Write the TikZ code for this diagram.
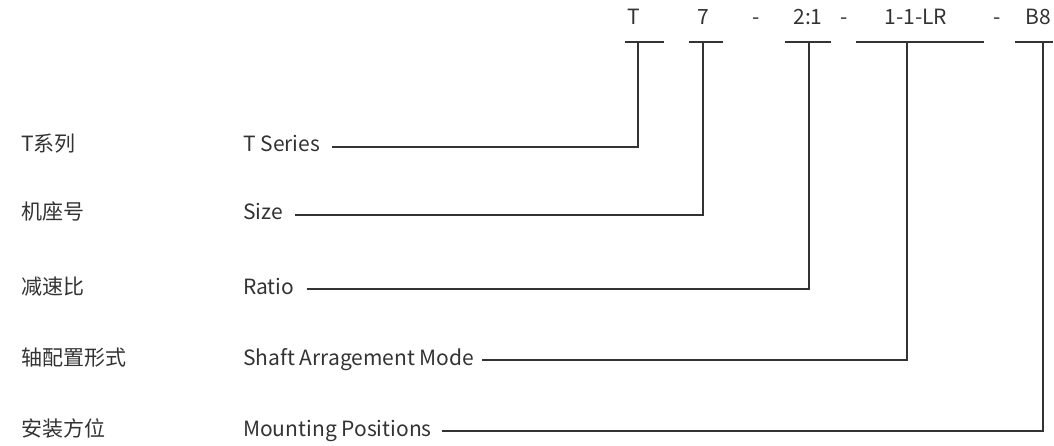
\documentclass[tikz,border=0pt]{standalone}
\usepackage{fontspec}
\setmainfont{Noto Sans CJK SC}
\definecolor{ink}{HTML}{333333}
\begin{document}
\begin{tikzpicture}[x=1pt,y=-1pt,
  lab/.style={anchor=west, inner sep=0pt, text height=1em, text depth=0pt, font=\fontsize{21}{21}\selectfont, text=ink},
  code/.style={inner sep=0pt, text height=1em, text depth=0pt, font=\fontsize{21}{21}\selectfont, text=ink},
  conn/.style={draw=ink, line width=1.2pt}]
\useasboundingbox (0,0) rectangle (1054,446);
% code row
\node[code] (cT) at (634,20) {T};
\node[code] (c7) at (703,20) {7};
\node[code] (d1) at (756,20) {-};
\node[code] (cR) at (808,20) {2:1};
\node[code] (d2) at (844,20) {-};
\node[code] (cS) at (916,20) {1-1-LR};
\node[code] (d3) at (997,20) {-};
\node[code] (cB) at (1038,20) {B8};
% underlines
\draw[conn] (625,42) -- (664,42);
\draw[conn] (689,42) -- (723,42);
\draw[conn] (785,42) -- (831,42);
\draw[conn] (856,42) -- (984,42);
\draw[conn] (1015,42) -- (1053,42);
\coordinate (uT) at (638,42);
\coordinate (u7) at (703,42);
\coordinate (uR) at (809,42);
\coordinate (uS) at (907,42);
\coordinate (uB) at (1043,42);
% labels
\node[lab] (z1) at (21,147) {T系列};
\node[lab] (z2) at (21,215) {机座号};
\node[lab] (z3) at (21,289) {减速比};
\node[lab] (z4) at (21,360) {轴配置形式};
\node[lab] (z5) at (21,431) {安装方位};
\node[lab] (e1) at (243,147) {T Series};
\node[lab] (e2) at (243,215) {Size};
\node[lab] (e3) at (243,289) {Ratio};
\node[lab] (e4) at (243,360) {Shaft Arragement Mode};
\node[lab] (e5) at (243,431) {Mounting Positions};
% connectors
\draw[conn] ([xshift=12pt]e1.east) -| (uT);
\draw[conn] ([xshift=12pt]e2.east) -| (u7);
\draw[conn] ([xshift=12pt]e3.east) -| (uR);
\draw[conn] ([xshift=8pt]e4.east) -| (uS);
\draw[conn] ([xshift=10pt]e5.east) -| (uB);
\end{tikzpicture}
\end{document}
